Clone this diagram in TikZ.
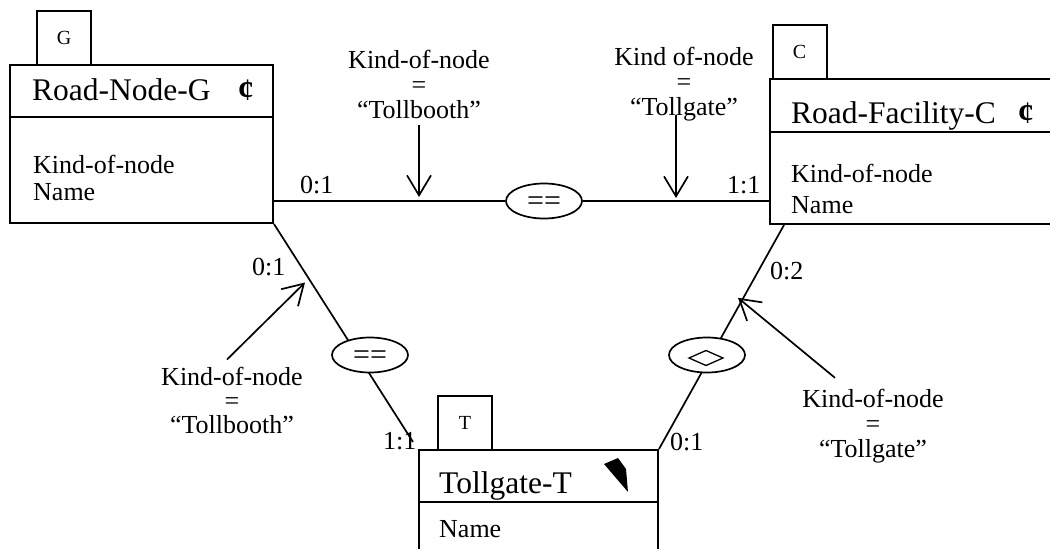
\documentclass[tikz,border=0pt]{standalone}
\usepackage{fontspec}
\setmainfont{Liberation Serif}
\usetikzlibrary{arrows.meta,calc,shapes.geometric}
\begin{document}
\begin{tikzpicture}[x=1pt,y=-1pt,
  box/.style={draw,line width=2pt,inner sep=0,rectangle},
  tabbox/.style={draw,line width=2pt,inner sep=0,minimum width=54pt,minimum height=54pt,font=\fontsize{20}{20}\selectfont},
  ttl/.style={anchor=base west,inner sep=0,font=\fontsize{31.5}{31.5}\selectfont},
  attr/.style={anchor=base west,inner sep=0,font=\fontsize{26}{26}\selectfont},
  card/.style={anchor=base west,inner sep=0,font=\fontsize{26}{26}\selectfont},
  cond/.style={align=center,inner sep=0,font=\fontsize{26}{25}\selectfont},
  conn/.style={line width=1.7pt},
  sepline/.style={line width=2pt},
  arr/.style={line width=1.7pt,-{Straight Barb[length=20pt,width=24pt]}},
  rel/.style={draw,ellipse,fill=white,line width=1.7pt,minimum width=76pt,minimum height=35pt,inner sep=0},
  relsym/.style={inner sep=0,font=\fontsize{30}{30}\selectfont}]
\clip (0,0) rectangle (1050,549);
% classes
\node[box,minimum width=263pt,minimum height=158pt] (G) at (141.5,144) {};
\node[tabbox] (Gt) at (64,38) {G};
\node[box,minimum width=300pt,minimum height=145pt] (C) at (920,151.5) {};
\node[tabbox] (Ct) at (799.5,52) {C};
\node[box,minimum width=239pt,minimum height=120pt] (T) at (538.5,510) {};
\node[tabbox] (Tt) at (465,423) {T};
\draw[sepline] ($(G.north west)+(0,53)$) -- ($(G.north east)+(0,53)$);
\draw[sepline] ($(C.north west)+(0,54)$) -- ($(C.north east)+(0,54)$);
\draw[sepline] ($(T.north west)+(0,53)$) -- ($(T.north east)+(0,53)$);
\node[ttl] (Gn) at (32,100) {Road-Node-G};
\node[ttl] (Gc) at (238,100) {\textbf{¢}};
\node[attr] (Ga1) at (33,173) {Kind-of-node};
\node[attr] (Ga2) at (33,200) {Name};
\node[ttl] (Cn) at (791,123) {Road-Facility-C};
\node[ttl] (Cc) at (1018,123) {\textbf{¢}};
\node[attr] (Ca1) at (791,182) {Kind-of-node};
\node[attr] (Ca2) at (791,213) {Name};
\node[ttl] (Tn) at (439,493) {Tollgate-T};
\node[attr] (Ta1) at (439,537) {Name};
\fill (604,464) -- (618,458) -- (626,469) -- (628,492) -- cycle;
% top relationship
\node[rel] (e0) at (544,201) {};
\node[relsym] (eq0) at ($(e0)+(0,3)$) {==};
\draw[conn] (G.east |- e0) -- (e0) -- (C.west |- e0);
% diagonal relationships
\draw[conn] (G.south east) -- ($(T.north west)+(-5,-7)$);
\draw[conn] ($(C.south west)+(15,0)$) -- (T.north east);
\node[rel] (e1) at (370,355) {};
\node[relsym] (eq1) at ($(e1)+(0,3)$) {==};
\node[rel] (e2) at (707,355) {};
\draw[line width=1.3pt] ($(e2)+(-18,3)$) -- ($(e2)+(-1,-4.5)$) -- ($(e2)+(16,3)$) -- ($(e2)+(-1,10.5)$) -- cycle;
% cardinalities
\node[card] (c1) at (300,193) {0:1};
\node[card] (c2) at (727,193) {1:1};
\node[card] (c3) at (252,275) {0:1};
\node[card] (c4) at (383,449) {1:1};
\node[card] (c5) at (770,279) {0:2};
\node[card] (c6) at (670,450) {0:1};
% conditions
\node[cond] (L1) at (419,84) {Kind-of-node\\=\\“Tollbooth”};
\node[cond] (L2) at (684,84) {Kind of-node\\=\\“Tollgate”};
\node[cond,font=\fontsize{26}{24}\selectfont] (L3) at (232,400) {Kind-of-node\\=\\“Tollbooth”};
\node[cond] (L4) at (873,426) {Kind-of-node\\=\\“Tollgate”};
\draw[arr] ($(L1.south)+(0,7)$) -- ($(L1.south |- e0)+(0,-4)$);
\draw[arr] ($(L2.south)+(-8,-6)$) -- ($(L2.south |- e0)+(-8,-3)$);
\draw[arr] ($(L3.north)+(-5,-7)$) -- ($(L3.north)+(73,-84)$);
\draw[arr] ($(L4.north)+(-38,-11)$) -- ($(L4.north)+(-135,-91)$);
\end{tikzpicture}
\end{document}
